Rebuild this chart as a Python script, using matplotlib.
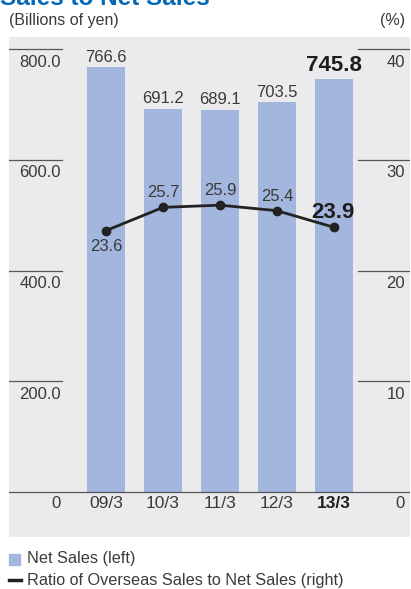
import matplotlib
matplotlib.use('Agg')
import matplotlib.pyplot as plt

plt.rcParams['font.family'] = ['Liberation Sans', 'DejaVu Sans']

# data
years = ['09/3', '10/3', '11/3', '12/3', '13/3']
net_sales = [766.6, 691.2, 689.1, 703.5, 745.8]
overseas_ratio = [23.6, 25.7, 25.9, 25.4, 23.9]
left_ticks = [200, 400, 600, 800]
right_ticks = [10, 20, 30, 40]

BAR = '#a3b6de'
BG = '#ebebed'
TXT = '#3a3a3a'
DARK = '#1e1e1e'
LINE = '#222222'

W, H = 411, 589
fig = plt.figure(figsize=(W / 100, H / 100), dpi=100)

# grey panel: x 9..410, y 37..537 (pixels from top), baseline at y=492
ax = fig.add_axes([9 / W, (H - 537) / H, 401 / W, 500 / H])
ax.set_facecolor(BG)
px_per_unit = 443 / 800
ax.set_ylim(-45 / px_per_unit, 455 / px_per_unit)
ax.set_xlim((9 - 106) / 57, (410 - 106) / 57)
for s in ax.spines.values():
    s.set_visible(False)
ax.set_xticks([])
ax.set_yticks([])

x = list(range(len(years)))
ax.bar(x, net_sales, width=38 / 57, color=BAR, zorder=2)

ax2 = ax.twinx()
ax2.set_ylim(ax.get_ylim()[0] / 20, ax.get_ylim()[1] / 20)
for s in ax2.spines.values():
    s.set_visible(False)
ax2.set_yticks([])
ax2.plot(x, overseas_ratio, color=LINE, lw=2, marker='o', ms=6, zorder=4)

# short gridline stubs and baseline
for t in left_ticks:
    ax.axhline(t, xmin=0, xmax=(62 - 9) / 401, color='#555555', lw=0.9, zorder=1)
    ax.axhline(t, xmin=(358 - 9) / 401, xmax=1, color='#555555', lw=0.9, zorder=1)
ax.axhline(0, color='#555555', lw=0.9, zorder=3)

# axis labels
off = 13 / px_per_unit
ytr = ax.get_yaxis_transform()
for t, r in zip(left_ticks, right_ticks):
    ax.text((61 - 9) / 401, t - off, f'{t:.1f}', transform=ytr, ha='right', va='center',
            fontsize=12, color=TXT)
    ax.text((405 - 9) / 401, t - off, f'{r}', transform=ytr, ha='right', va='center',
            fontsize=12, color=TXT)
off0 = 11 / px_per_unit
ax.text((61 - 9) / 401, -off0, '0', transform=ytr, ha='right', va='center', fontsize=12, color=TXT)
ax.text((405 - 9) / 401, -off0, '0', transform=ytr, ha='right', va='center', fontsize=12, color=TXT)

for i, yr in enumerate(years):
    last = i == len(years) - 1
    ax.text(i, -off0, yr, ha='center', va='center', fontsize=12.5,
            fontweight='bold' if last else 'normal', color=DARK if last else TXT)

# value labels
for i, v in enumerate(net_sales):
    last = i == len(years) - 1
    ax.annotate(f'{v:.1f}', (i, v), xytext=(0, 10 if last else 7.5), textcoords='offset points',
                ha='center', va='center', fontsize=16 if last else 12,
                fontweight='bold' if last else 'normal', color=DARK if last else TXT,
                zorder=5)

for i, r in enumerate(overseas_ratio):
    if i == 0:
        ax2.annotate(f'{r}', (i, r), xytext=(0, -11.5), textcoords='offset points',
                     ha='center', va='center', fontsize=12, color=TXT)
    elif i == len(years) - 1:
        ax2.annotate(f'{r}', (i, r), xytext=(-1, 11), textcoords='offset points',
                     ha='center', va='center', fontsize=16, fontweight='bold', color=DARK)
    else:
        ax2.annotate(f'{r}', (i, r), xytext=(0, 10.4), textcoords='offset points',
                     ha='center', va='center', fontsize=12, color=TXT)

# header texts (title is cut off at the top edge, as in the source)
fig.text(0 / W, 1 - 5 / H, 'Sales to Net Sales', ha='left', va='baseline', fontsize=17.5,
         fontweight='bold', color='#0068b7')
fig.text(9 / W, 1 - 20 / H, '(Billions of yen)', ha='left', va='center', fontsize=11.5, color=TXT)
fig.text(405 / W, 1 - 20 / H, '(%)', ha='right', va='center', fontsize=11.5, color=TXT)

# legend
fig.patches.append(plt.Rectangle((9 / W, 1 - 565 / H), 11 / W, 11 / H,
                                 transform=fig.transFigure, color=BAR))
fig.text(27 / W, 1 - 559 / H, 'Net Sales (left)', ha='left', va='center', fontsize=11.7, color=TXT)
fig.lines.append(plt.Line2D([9 / W, 21 / W], [1 - 580 / H, 1 - 580 / H],
                            transform=fig.transFigure, color=LINE, lw=2.5))
fig.text(27 / W, 1 - 580 / H, 'Ratio of Overseas Sales to Net Sales (right)', ha='left',
         va='center', fontsize=11.7, color=TXT)

fig.savefig('out.png', dpi=100)
